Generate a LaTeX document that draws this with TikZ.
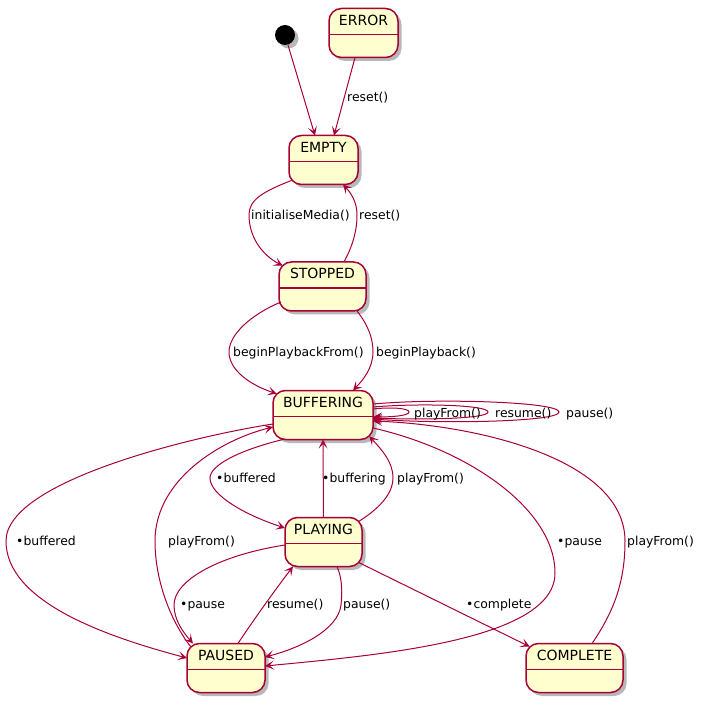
\documentclass[tikz,border=0pt]{standalone}
\usepackage{fontspec}
\setmainfont{DejaVu Sans}
\usetikzlibrary{arrows.meta,shadows}
\definecolor{bd}{HTML}{A80036}
\definecolor{bg}{HTML}{FEFECE}
\begin{document}
\begin{tikzpicture}[x=1pt,y=-1pt,
  shad/.style={drop shadow={shadow xshift=3.5pt,shadow yshift=-3.5pt,fill=black,opacity=0.28}},
  stbox/.style={rectangle, rounded corners=12.5pt, draw=bd, fill=bg, line width=1.5pt,
    inner sep=0pt, outer sep=0pt, minimum height=49pt, shad},
  stname/.style={font=\fontsize{14}{16}\selectfont, inner sep=0pt, anchor=base},
  divider/.style={draw=bd, line width=1.5pt},
  lbl/.style={font=\fontsize{12.4}{14}\selectfont, inner sep=0pt, anchor=base west},
  tr/.style={draw=bd, line width=1pt, -{Stealth[length=9pt,width=9pt,inset=4.5pt]}},
  ln/.style={draw=bd, line width=1pt}]
\path[use as bounding box, fill=white] (0,0) rectangle (707,703);

% states
\node[circle, fill=black, minimum size=20pt, inner sep=0pt, outer sep=0pt, shad] (init) at (285,35) {};
\node[stbox, minimum width=69pt] (error) at (363.5,33) {};
\node[stbox, minimum width=69pt] (empty) at (323.5,160) {};
\node[stbox, minimum width=87pt] (stopped) at (322.5,286.5) {};
\node[stbox, minimum width=100pt] (buf) at (323,415) {};
\node[stbox, minimum width=77pt] (playing) at (323.5,542) {};
\node[stbox, minimum width=78pt] (paused) at (226,668) {};
\node[stbox, minimum width=97pt] (complete) at (574.5,668) {};

\foreach \n/\t in {error/ERROR, empty/EMPTY, stopped/STOPPED, buf/BUFFERING, playing/PLAYING, paused/PAUSED, complete/COMPLETE}{
  \node[stname] (\n-name) at ([yshift=-16.8pt]\n.north) {\t};
  \draw[divider] ([yshift=-26pt]\n.north west) -- ([yshift=-26pt]\n.north east);
}

% transitions
\draw[tr] (init) -- ([xshift=-8.5pt]empty.north);
\draw[tr] ([xshift=-8.5pt]error.south) -- ([xshift=10.5pt]empty.north);
\node[lbl] (l-reset1) at (347,101.5) {reset()};

\draw[tr] ([shift={(-31,20)}]empty.center) .. controls (262,192) and (249,200) .. (249,215)
  .. controls (249,237) and (262,255) .. ([shift={(-39.8,-20.8)}]stopped.center);
\node[lbl] (l-init) at (251,219.5) {initialiseMedia()};

\draw[tr] ([xshift=21.5pt]stopped.north) .. controls (352,247) and (357,232) .. (357,215)
  .. controls (357,202) and (351,193) .. ([xshift=19.5pt]empty.south);
\node[lbl] (l-reset2) at (359,219.5) {reset()};

\draw[tr] ([shift={(-41.5,15.5)}]stopped.center) .. controls (250,315) and (229,335) .. (229,352)
  .. controls (229,370) and (250,385) .. ([shift={(-46.3,-21.3)}]buf.center);
\node[lbl] (l-bpf) at (233,356.5) {beginPlaybackFrom()};

\draw[tr] ([xshift=34.5pt]stopped.south) .. controls (368,325) and (373,338) .. (373,352)
  .. controls (373,368) and (363,380) .. ([xshift=30pt]buf.north);
\node[lbl] (l-bp) at (376,356.5) {beginPlayback()};

% self loops
\draw[tr] ([yshift=6pt]buf.east) .. controls (390,407) and (409,408) .. (409,412)
  .. controls (409,416) and (390,417) .. ([yshift=-2pt]buf.east);
\draw[tr] ([yshift=8pt]buf.east) .. controls (420,403) and (488,405) .. (488,412)
  .. controls (488,419) and (420,420) .. ([yshift=-3pt]buf.east);
\draw[tr] ([yshift=11pt]buf.east) .. controls (440,398) and (559,402) .. (559,412)
  .. controls (559,422) and (440,424) .. ([yshift=-4pt]buf.east);
\node[lbl] (l-pf1) at (414,417.5) {playFrom()};
\node[lbl] (l-res1) at (495,417.5) {resume()};
\node[lbl] (l-pau1) at (566,417.5) {pause()};

% buffering <-> playing
\draw[tr] ([xshift=-40pt]buf.south) .. controls (240,450) and (210,465) .. (210,478)
  .. controls (210,495) and (245,515) .. ([yshift=14pt]playing.west);
\node[lbl] (l-bd1) at (216,482.5) {•buffered};
\draw[tr] (playing.north) -- (buf.south);
\node[lbl] (l-bing) at (322,482.5) {•buffering};
\draw[tr] ([shift={(34.8,-20.3)}]playing.center) .. controls (385,505) and (393,490) .. (393,478)
  .. controls (393,462) and (382,450) .. ([shift={(46.3,21.3)}]buf.center);
\node[lbl] (l-pf2) at (397,482.5) {playFrom()};

% buffering <-> paused
\draw[tr] ([yshift=-9pt]buf.west) .. controls (200,435) and (6,480) .. (6,541)
  .. controls (6,600) and (100,635) .. ([yshift=10pt]paused.west);
\node[lbl] (l-bd2) at (16,545.5) {•buffered};
\draw[tr] ([shift={(-35.3,-21.3)}]paused.center) .. controls (170,620) and (155,580) .. (155,541)
  .. controls (155,480) and (220,440) .. ([yshift=-12pt]buf.west);
\node[lbl] (l-pf3) at (168,545.5) {playFrom()};

% playing <-> paused
\draw[tr] ([yshift=-3pt]playing.west) .. controls (220,555) and (174,580) .. (174,605)
  .. controls (174,620) and (183,632) .. ([xshift=-33pt]paused.north);
\node[lbl] (l-pau2) at (180,608.5) {•pause};
\draw[tr] ([xshift=12pt]paused.north) .. controls (250,625) and (275,590) .. ([xshift=-30.5pt]playing.south);
\node[lbl] (l-res2) at (267,608.5) {resume()};
\draw[tr] ([xshift=13.5pt]playing.south) .. controls (343,580) and (342,595) .. (341,605)
  .. controls (338,630) and (300,648) .. ([yshift=11pt]paused.east);
\node[lbl] (l-pau3) at (343,608.5) {pause()};

% playing -> complete
\draw[tr] ([shift={(34.8,20.3)}]playing.center) -- ([shift={(-44.8,-21.3)}]complete.center);
\node[lbl] (l-comp) at (466,608.5) {•complete};

% buffering -> paused (pause)
\draw[tr] ([yshift=-13pt]buf.east) .. controls (470,450) and (555,510) .. (555,573)
  .. controls (555,640) and (380,655) .. ([yshift=2pt]paused.east);
\node[lbl] (l-pau4) at (557,545.5) {•pause};

% complete -> buffering
\draw[tr] ([xshift=17.5pt]complete.north) .. controls (615,610) and (625,580) .. (625,541)
  .. controls (625,460) and (480,425) .. ([yshift=-6pt]buf.east);
\node[lbl] (l-pf4) at (627,545.5) {playFrom()};
\end{tikzpicture}
\end{document}
